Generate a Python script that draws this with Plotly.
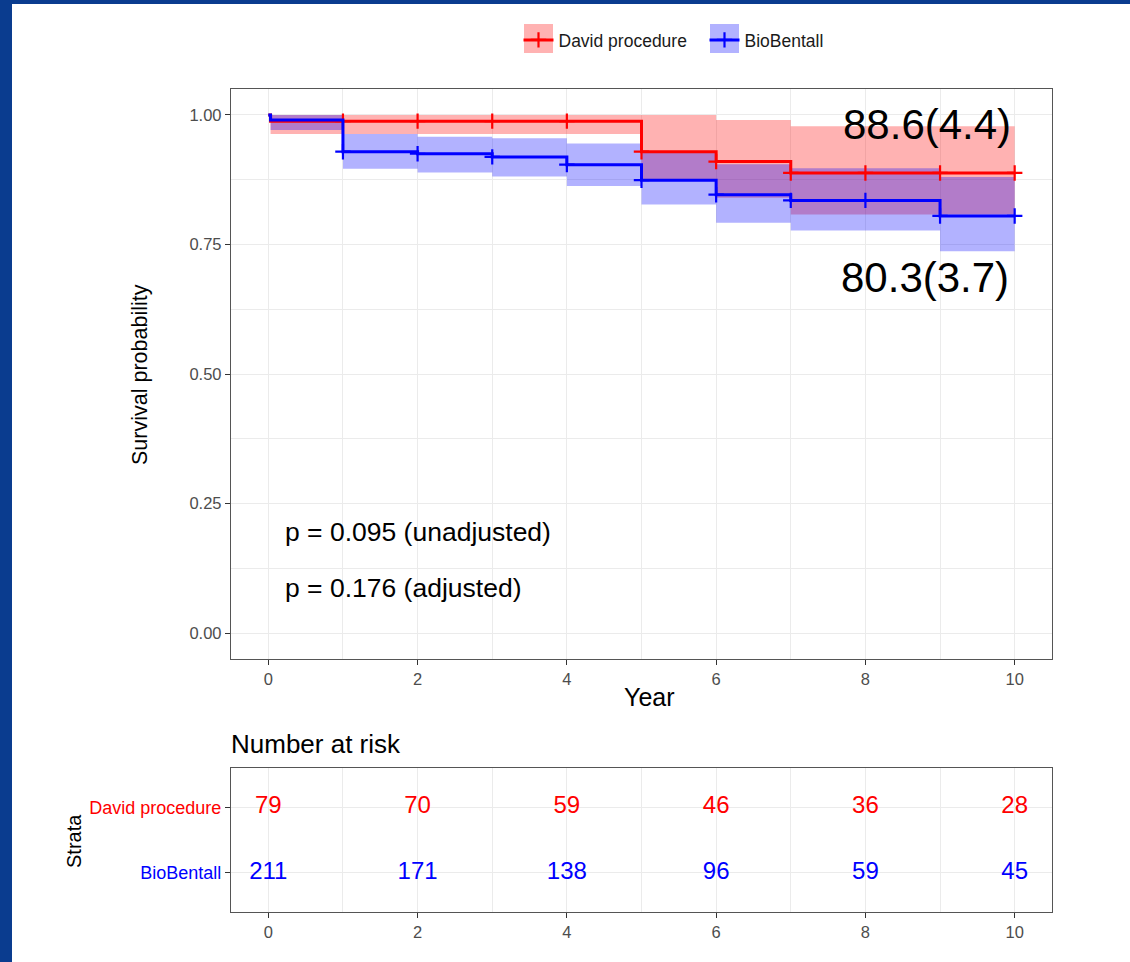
import numpy as np
import plotly.graph_objects as go

W, H = 1130, 962

# ---------------- data ----------------
groups = ["David procedure", "BioBentall"]
line_colors = ["#FF0000", "#0000FF"]
fill_colors = ["rgba(255,0,0,0.3)", "rgba(0,0,255,0.3)"]

david_time = [0, 0.03, 5, 6, 7, 10]
david_surv = [1.0, 0.988, 0.929, 0.910, 0.888, 0.888]
david_upper = [1.0, 1.0, 1.0, 0.990, 0.978, 0.978]
david_lower = [1.0, 0.963, 0.873, 0.840, 0.808, 0.808]

bio_time = [0, 0.03, 1, 2, 3, 4, 5, 6, 7, 9, 10]
bio_surv = [1.0, 0.990, 0.929, 0.925, 0.919, 0.904, 0.874, 0.846, 0.835, 0.805, 0.805]
bio_upper = [1.0, 1.0, 0.963, 0.958, 0.955, 0.945, 0.927, 0.905, 0.897, 0.880, 0.880]
bio_lower = [1.0, 0.971, 0.896, 0.889, 0.881, 0.863, 0.827, 0.792, 0.777, 0.737, 0.737]

censor_times = [1, 2, 3, 4, 5, 6, 7, 8, 9, 10]

risk_years = [0, 2, 4, 6, 8, 10]
david_risk = [79, 70, 59, 46, 36, 28]
bio_risk = [211, 171, 138, 96, 59, 45]

end_labels = ["88.6(4.4)", "80.3(3.7)"]
end_label_x = [8.82, 8.8]
end_label_y = [0.981, 0.686]

p_labels = ["p = 0.095 (unadjusted)", "p = 0.176 (adjusted)"]
p_label_x = [0.2, 0.2]
p_label_y = [0.195, 0.087]

y_ticks = [0.0, 0.25, 0.5, 0.75, 1.0]
y_ticktext = ["0.00", "0.25", "0.50", "0.75", "1.00"]

FONT = "Liberation Sans, Arial, sans-serif"
GRID = "#EBEBEB"
TICKC = "#4D4D4D"


def px_x(p):
    return p / W


def px_y(p):
    return 1 - p / H


def step_value(times, surv, t):
    idx = np.searchsorted(np.array(times), t, side="right") - 1
    return float(np.array(surv)[idx])


curves = [
    (david_time, david_surv, david_upper, david_lower),
    (bio_time, bio_surv, bio_upper, bio_lower),
]

fig = go.Figure()

# confidence bands
for (t, s, up, lo), name, lc, fc in zip(curves, groups, line_colors, fill_colors):
    fig.add_trace(go.Scatter(x=t, y=up, mode="lines", line=dict(width=0, shape="hv"),
                             showlegend=False, hoverinfo="skip", xaxis="x", yaxis="y"))
    fig.add_trace(go.Scatter(x=t, y=lo, mode="lines", line=dict(width=0, shape="hv"),
                             fill="tonexty", fillcolor=fc, showlegend=False,
                             hoverinfo="skip", xaxis="x", yaxis="y"))

# survival step lines + censor marks
for (t, s, up, lo), name, lc in zip(curves, groups, line_colors):
    fig.add_trace(go.Scatter(x=t, y=s, mode="lines", line=dict(color=lc, width=3, shape="hv"),
                             showlegend=False, xaxis="x", yaxis="y"))
    marks = [step_value(t, s, c) for c in censor_times]
    fig.add_trace(go.Scatter(x=censor_times, y=marks, mode="markers",
                             marker=dict(symbol="cross-thin", size=11,
                                         line=dict(color=lc, width=2.2)),
                             showlegend=False, xaxis="x", yaxis="y"))

# legend entries
for name, lc in zip(groups, line_colors):
    fig.add_trace(go.Scatter(x=[None], y=[None], mode="lines+markers", name=name,
                             line=dict(color=lc, width=3),
                             marker=dict(symbol="cross-thin", size=11,
                                         line=dict(color=lc, width=2.2)),
                             xaxis="x", yaxis="y"))

# risk table
for vals, yv, lc in zip([david_risk, bio_risk], [2, 1], line_colors):
    fig.add_trace(go.Scatter(x=risk_years, y=[yv] * len(risk_years), mode="text",
                             text=[str(v) for v in vals],
                             textfont=dict(color=lc, size=24, family=FONT),
                             showlegend=False, hoverinfo="skip", xaxis="x2", yaxis="y2"))

dom_x = [px_x(231), px_x(1052)]
axis_common = dict(showline=True, mirror=True, linecolor="#555555", linewidth=1.3,
                   ticks="outside", ticklen=5, tickwidth=1.3, tickcolor="#333333",
                   showgrid=True, gridcolor=GRID, gridwidth=1.4, zeroline=False,
                   tickfont=dict(family=FONT, size=16.5, color=TICKC))

fig.update_layout(
    width=W, height=H,
    margin=dict(l=0, r=0, t=0, b=0),
    paper_bgcolor="#0A3C8F",
    plot_bgcolor="white",
    font=dict(family=FONT),
    xaxis=dict(domain=dom_x, range=[-0.5, 10.5], tick0=0, dtick=2, anchor="y",
               minor=dict(dtick=1, tick0=0, showgrid=True, gridcolor=GRID, gridwidth=1),
               **axis_common),
    yaxis=dict(domain=[px_y(659), px_y(89)], range=[-0.05, 1.05], tickmode="array",
               tickvals=y_ticks, ticktext=y_ticktext, anchor="x",
               minor=dict(tick0=0.125, dtick=0.25, showgrid=True, gridcolor=GRID, gridwidth=1),
               **axis_common),
    xaxis2=dict(domain=dom_x, range=[-0.5, 10.5], tick0=0, dtick=2, anchor="y2",
                minor=dict(dtick=1, tick0=0, showgrid=True, gridcolor=GRID, gridwidth=1),
                **axis_common),
    yaxis2=dict(domain=[px_y(912), px_y(768)], range=[0.4, 2.6], tickmode="array",
                tickvals=[2, 1],
                ticktext=[f"<span style='color:{line_colors[0]}'>{groups[0]}</span>",
                          f"<span style='color:{line_colors[1]}'>{groups[1]}</span>"],
                anchor="x2", **{**axis_common,
                                "tickfont": dict(family=FONT, size=18, color=TICKC)}),
    legend=dict(orientation="h", x=px_x(518.5), y=px_y(22), xanchor="left", yanchor="top",
                bgcolor="rgba(0,0,0,0)", font=dict(family=FONT, size=17.5, color="#1A1A1A"),
                itemwidth=30, entrywidth=141, traceorder="normal"),
    showlegend=True,
    hovermode=False,
)

shapes = [
    dict(type="rect", xref="paper", yref="paper", x0=px_x(12), x1=1.01, y0=-0.01, y1=px_y(4),
         fillcolor="white", line=dict(width=0), layer="below"),
]
for i, fc in enumerate(fill_colors):
    x0 = [524, 710][i]
    shapes.append(dict(type="rect", xref="paper", yref="paper",
                       x0=px_x(x0), x1=px_x(x0 + 29), y0=px_y(53), y1=px_y(24),
                       fillcolor=fc, line=dict(width=0), layer="below"))
fig.update_layout(shapes=shapes)

annotations = []
for txt, xv, yv in zip(end_labels, end_label_x, end_label_y):
    annotations.append(dict(x=xv, y=yv, xref="x", yref="y", text=txt, showarrow=False,
                            font=dict(family=FONT, size=42, color="black"),
                            xanchor="center", yanchor="middle"))
for txt, xv, yv in zip(p_labels, p_label_x, p_label_y):
    annotations.append(dict(x=xv, y=yv, xref="x", yref="y", text=txt, showarrow=False,
                            font=dict(family=FONT, size=26.5, color="black"),
                            xanchor="left", yanchor="middle"))
annotations += [
    dict(x=px_x(140), y=px_y(375), xref="paper", yref="paper", text="Survival probability",
         textangle=-90, showarrow=False, font=dict(family=FONT, size=21.5, color="black"),
         xanchor="center", yanchor="middle"),
    dict(x=px_x(649), y=px_y(697), xref="paper", yref="paper", text="Year",
         showarrow=False, font=dict(family=FONT, size=25, color="black"),
         xanchor="center", yanchor="middle"),
    dict(x=px_x(229), y=px_y(744), xref="paper", yref="paper", text="Number at risk",
         showarrow=False, font=dict(family=FONT, size=26, color="black"),
         xanchor="left", yanchor="middle"),
    dict(x=px_x(74), y=px_y(841), xref="paper", yref="paper", text="Strata",
         textangle=-90, showarrow=False, font=dict(family=FONT, size=20, color="black"),
         xanchor="center", yanchor="middle"),
]
fig.update_layout(annotations=annotations)

fig.write_html("out.html", config={"displayModeBar": False},
               post_script="document.body.style.margin='0px';document.body.style.overflow='hidden';")
